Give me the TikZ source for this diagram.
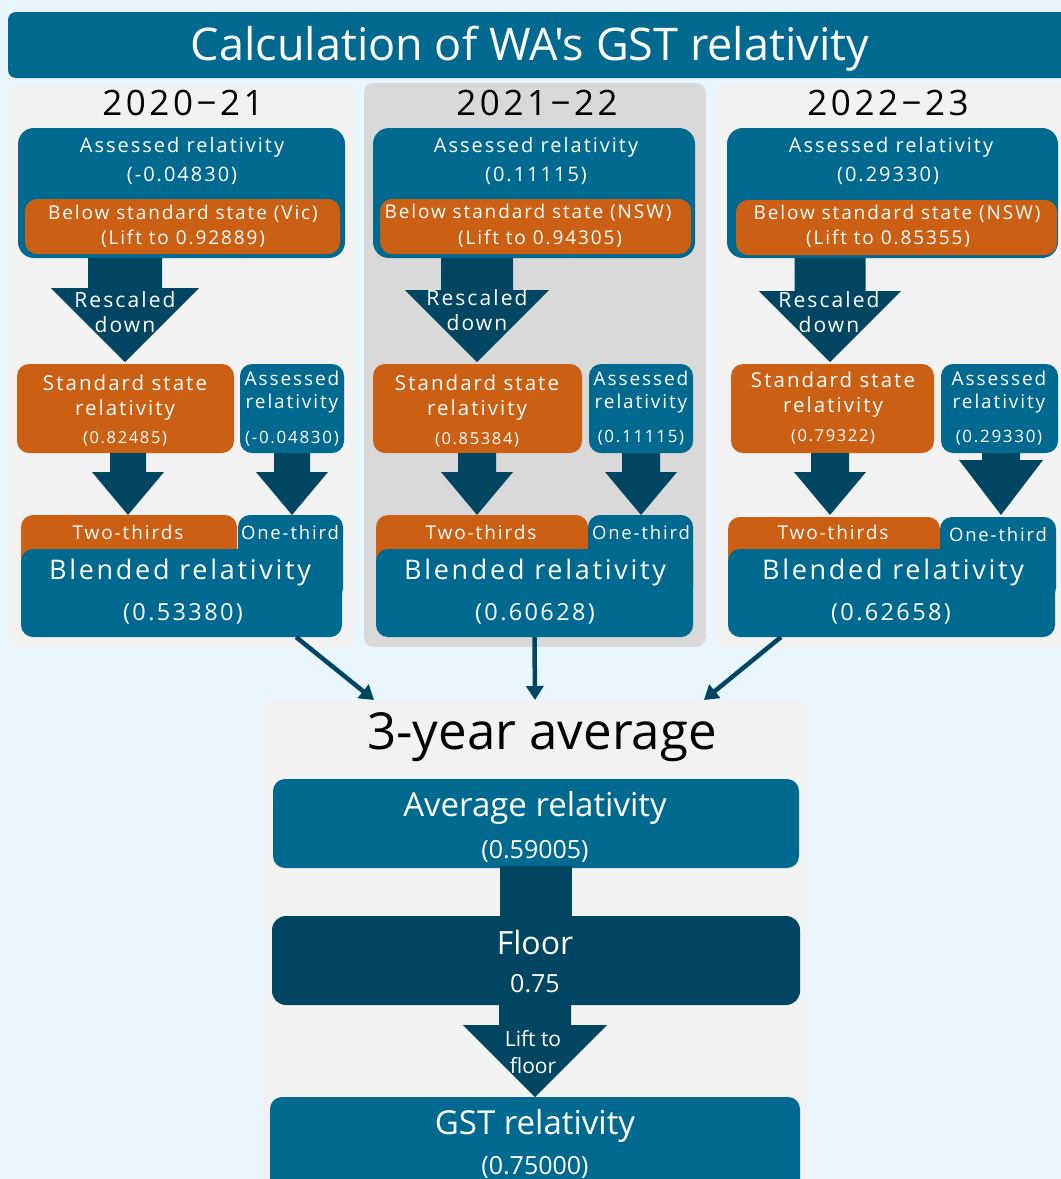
\documentclass[tikz,border=0pt]{standalone}
\usepackage{fontspec}
\setmainfont{Open Sans}
\newfontfamily\wf[LetterSpace=10]{Open Sans}
\newfontfamily\tf[Ligatures=TeXOff]{Open Sans}
\usetikzlibrary{arrows.meta,calc}
\definecolor{bgc}{HTML}{EAF6FD}
\definecolor{blueM}{HTML}{006990}
\definecolor{darkT}{HTML}{004662}
\definecolor{orng}{HTML}{CB5F13}
\definecolor{grayP}{HTML}{F2F2F2}
\definecolor{grayM}{HTML}{D9D9D9}
\newcommand{\fs}[1]{\fontsize{#1}{#1}\selectfont}
% name, x1, y1, x2, y2, style
\newcommand{\rbox}[6]{\node[#6, minimum width={#4-#2}, minimum height={#5-#3}, inner sep=0pt, outer sep=0pt] (#1) at ({(#2+#4)/2},{(#3+#5)/2}) {};}
% cx, shaft top, head base, tip, shaft half, head half
\newcommand{\blk}[6]{\fill[darkT] ({#1-#5},#2) -- ({#1+#5},#2) -- ({#1+#5},#3) -- ({#1+#6},#3) -- (#1,#4) -- ({#1-#6},#3) -- ({#1-#5},#3) -- cycle;}
% texts: name, x, y (visual centre of capitals), size, text
\newcommand{\Wt}[5]{\node[wt, font=\wf\fs{#4}] (#1) at ({#2},{#3+0.36*#4}) {#5};}
\newcommand{\Bt}[5]{\node[bt, font=\wf\fs{#4}] (#1) at ({#2},{#3+0.36*#4}) {#5};}
\newcommand{\Pt}[5]{\node[wt, font=\fs{#4}] (#1) at ({#2},{#3+0.36*#4}) {#5};}
\tikzset{
  panel/.style={rectangle, fill=grayP, rounded corners=10pt},
  panelm/.style={rectangle, fill=grayM, rounded corners=10pt},
  bluebox/.style={rectangle, fill=blueM, rounded corners=16pt},
  bluesm/.style={rectangle, fill=blueM, rounded corners=12pt},
  orbox/.style={rectangle, fill=orng, rounded corners=12pt},
  darkbox/.style={rectangle, fill=darkT, rounded corners=14pt},
  wt/.style={text=white, inner sep=0pt, anchor=base},
  bt/.style={text=black, inner sep=0pt, anchor=base},
  conn/.style={draw=darkT, line width=4.5pt, -{Triangle[length=14pt,width=17pt]}},
}
\begin{document}
\begin{tikzpicture}[x=1pt,y=-1pt]
\useasboundingbox (0,0) rectangle (1061,1179);
\clip (0,0) rectangle (1061,1179);
\fill[bgc] (0,0) rectangle (1061,1179);

% title
\rbox{title}{8}{12}{1075}{78}{rectangle, fill=blueM, rounded corners=8pt}
\node[wt, font=\tf\fs{45}] (titletxt) at (530,{44+0.36*45}) {Calculation of WA's GST relativity};

% panels
\rbox{p1}{8}{84}{355}{648}{panel}
\rbox{p2}{364}{83}{706}{647}{panelm}
\rbox{p3}{716}{83}{1071}{648}{panel}
\rbox{pb}{263}{700}{807}{1195}{panel}

\Bt{y1}{183}{103}{35}{2020\textminus 21}
\Bt{y2}{537}{103}{35}{2021\textminus 22}
\Bt{y3}{888}{103}{35}{2022\textminus 23}

% ---------------- panel 1
\rbox{a1}{18}{128}{345}{258}{bluebox}
\rbox{o1}{25}{199}{340}{254}{orbox}
\Wt{a1t}{182}{145}{20}{Assessed relativity}
\Wt{a1v}{182}{174}{20}{(-0.04830)}
\Wt{o1t}{183}{213}{19}{Below standard state (Vic)}
\Wt{o1v}{183}{238}{19}{(Lift to 0.92889)}
\rbox{s1}{17}{364}{234}{453}{orbox}
\rbox{r1}{240}{364}{344}{453}{bluesm}
\blk{125}{258}{288}{362}{37}{74}
\Wt{rs1}{125}{300}{21}{Rescaled}
\Wt{rd1}{125}{325}{21}{down}
\Wt{s1a}{125}{383}{20.5}{Standard state}
\Wt{s1b}{125}{408}{20.5}{relativity}
\Wt{s1v}{125}{438}{16.5}{(0.82485)}
\Wt{r1a}{292}{379}{19}{Assessed}
\Wt{r1b}{292}{402}{19}{relativity}
\Wt{r1v}{292}{437}{17}{(-0.04830)}
\blk{128}{453}{472}{515}{18}{36}
\blk{292}{453}{472}{515}{18}{36}
\rbox{t1}{21}{515}{237}{590}{orbox}
\rbox{u1}{238}{515}{343}{600}{bluesm}
\rbox{b1}{21}{549}{342}{637}{bluesm}
\Wt{t1t}{128}{533}{19}{Two-thirds}
\Wt{u1t}{290}{533}{18.5}{One-third}
\Wt{b1t}{180}{570}{27}{Blended relativity}
\Wt{b1v}{183}{612}{23.5}{(0.53380)}

% ---------------- panel 2
\rbox{a2}{373}{128}{695}{258}{bluebox}
\rbox{o2}{380}{199}{691}{254}{orbox}
\Wt{a2t}{536}{145}{20}{Assessed relativity}
\Wt{a2v}{536}{174}{20}{(0.11115)}
\Wt{o2t}{528}{212}{19}{Below standard state (NSW)}
\Wt{o2v}{540}{238}{19}{(Lift to 0.94305)}
\rbox{s2}{373}{364}{582}{453}{orbox}
\rbox{r2}{589}{364}{693}{453}{bluesm}
\blk{477}{258}{290}{362}{36}{72}
\Wt{rs2}{477}{298}{21}{Rescaled}
\Wt{rd2}{477}{323}{21}{down}
\Wt{s2a}{477}{383}{20.5}{Standard state}
\Wt{s2b}{477}{408}{20.5}{relativity}
\Wt{s2v}{477}{439}{16.5}{(0.85384)}
\Wt{r2a}{641}{379}{19}{Assessed}
\Wt{r2b}{641}{402}{19}{relativity}
\Wt{r2v}{641}{436}{17}{(0.11115)}
\blk{477}{453}{472}{515}{19}{36}
\blk{641}{453}{472}{515}{19}{36}
\rbox{t2}{376}{515}{588}{590}{orbox}
\rbox{u2}{588}{515}{693}{600}{bluesm}
\rbox{b2}{376}{549}{693}{637}{bluesm}
\Wt{t2t}{481}{533}{19}{Two-thirds}
\Wt{u2t}{641}{533}{18.5}{One-third}
\Wt{b2t}{535}{570}{27}{Blended relativity}
\Wt{b2v}{535}{612}{23.5}{(0.60628)}

% ---------------- panel 3
\rbox{a3}{727}{128}{1058}{258}{bluebox}
\rbox{o3}{736}{200}{1057}{255}{orbox}
\Wt{a3t}{891}{145}{20}{Assessed relativity}
\Wt{a3v}{888}{174}{20}{(0.29330)}
\Wt{o3t}{897}{213}{19}{Below standard state (NSW)}
\Wt{o3v}{888}{238}{19}{(Lift to 0.85355)}
\rbox{s3}{731}{364}{934}{453}{orbox}
\rbox{r3}{941}{364}{1058}{453}{bluesm}
\blk{830}{258}{291}{362}{35.5}{71}
\Wt{rs3}{829}{300}{21}{Rescaled}
\Wt{rd3}{829}{325}{21}{down}
\Wt{s3a}{833}{380}{20.5}{Standard state}
\Wt{s3b}{833}{405}{20.5}{relativity}
\Wt{s3v}{833}{436}{16.5}{(0.79322)}
\Wt{r3a}{999}{379}{19}{Assessed}
\Wt{r3b}{999}{402}{19}{relativity}
\Wt{r3v}{999}{436}{17}{(0.29330)}
\blk{830}{453}{472}{515}{19}{36}
\blk{1001}{453}{460}{515}{19}{42}
\rbox{t3}{728}{517}{940}{590}{orbox}
\rbox{u3}{940}{517}{1056}{600}{bluesm}
\rbox{b3}{728}{549}{1055}{637}{bluesm}
\Wt{t3t}{833}{533}{19}{Two-thirds}
\Wt{u3t}{998}{535}{18.5}{One-third}
\Wt{b3t}{893}{570}{27}{Blended relativity}
\Wt{b3v}{891}{612}{23.5}{(0.62658)}

% ---------------- connectors to the average
\draw[conn] ($(b1.south east)+(-46,0)$) -- ($(pb.north west)+(111,0)$);
\draw[conn] (b2.south) -- (pb.north);
\draw[conn] ($(b3.south west)+(53,0)$) -- ($(pb.north east)+(-103,0)$);

% ---------------- bottom panel
\node[bt, font=\fs{51}] (avgtitle) at (542,{731+0.36*51}) {3-year average};
\rbox{avg}{273}{779}{799}{868}{bluesm}
\rbox{fl}{272}{916}{800}{1005}{darkbox}
\fill[darkT] ($(avg.south)+(-36,-2)$) rectangle ($(fl.north)+(36,2)$);
\rbox{gst}{270}{1097}{800}{1195}{bluesm}
\blk{535}{1003}{1025}{1097}{36}{72}
\Pt{avgt}{535}{805}{33}{Average relativity}
\Pt{avgv}{535}{849}{25}{(0.59005)}
\Pt{flt}{535}{943}{32}{Floor}
\Pt{flv}{535}{983}{25}{0.75}
\Pt{lf1}{533}{1039}{21}{Lift to}
\Pt{lf2}{533}{1066}{21}{floor}
\Pt{gstt}{535}{1123}{33}{GST relativity}
\Pt{gstv}{535}{1165}{25}{(0.75000)}
\end{tikzpicture}
\end{document}
